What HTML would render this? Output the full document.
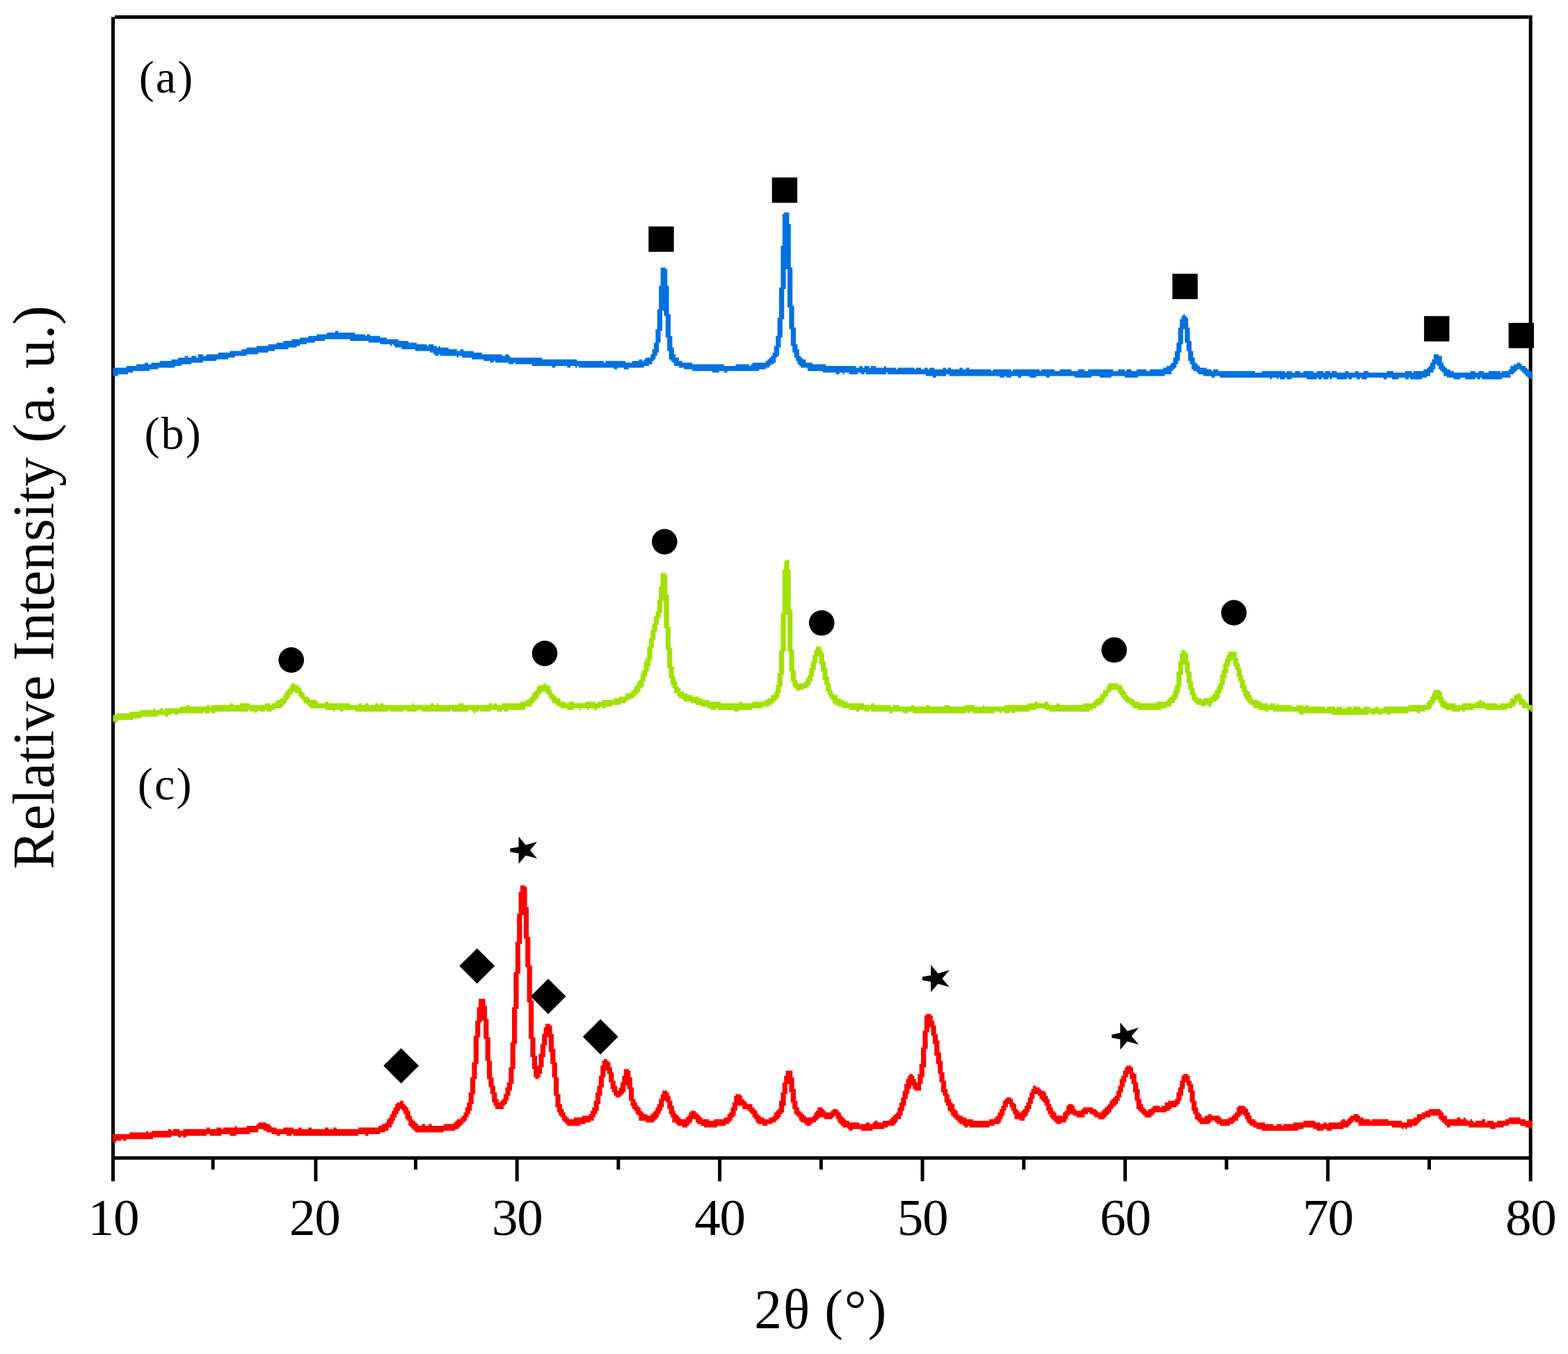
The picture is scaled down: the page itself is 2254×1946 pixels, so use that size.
<!DOCTYPE html>
<html lang="en">
<head>
<meta charset="utf-8">
<title>XRD patterns</title>
<style>
html,body{margin:0;padding:0;background:#fff;}
body{width:2254px;height:1946px;}
svg{display:block;}
text{font-family:"Liberation Serif","DejaVu Serif",serif;fill:#000;}
</style>
</head>
<body>
<svg width="2254" height="1946" viewBox="0 0 2254 1946" role="img" aria-label="XRD patterns (a), (b), (c): relative intensity versus 2 theta">
<rect width="2254" height="1946" fill="#fff"/>
<g fill="none" stroke="#000" stroke-width="5">
<line x1="162.5" y1="24.4" x2="162.5" y2="1697.7"/>
<line x1="2200.2" y1="21.9" x2="2200.2" y2="1697.7"/>
<line x1="165" y1="24.4" x2="2197.7" y2="24.4"/>
<line x1="162.5" y1="1664.2" x2="2200.2" y2="1664.2"/>
<line x1="306.1" y1="1664.2" x2="306.1" y2="1680.9"/>
<line x1="453.9" y1="1664.2" x2="453.9" y2="1697.7"/>
<line x1="597.5" y1="1664.2" x2="597.5" y2="1680.9"/>
<line x1="743.2" y1="1664.2" x2="743.2" y2="1697.7"/>
<line x1="888.9" y1="1664.2" x2="888.9" y2="1680.9"/>
<line x1="1034.6" y1="1664.2" x2="1034.6" y2="1697.7"/>
<line x1="1180.3" y1="1664.2" x2="1180.3" y2="1680.9"/>
<line x1="1326.0" y1="1664.2" x2="1326.0" y2="1697.7"/>
<line x1="1471.7" y1="1664.2" x2="1471.7" y2="1680.9"/>
<line x1="1617.4" y1="1664.2" x2="1617.4" y2="1697.7"/>
<line x1="1763.1" y1="1664.2" x2="1763.1" y2="1680.9"/>
<line x1="1908.8" y1="1664.2" x2="1908.8" y2="1697.7"/>
<line x1="2054.5" y1="1664.2" x2="2054.5" y2="1680.9"/>
</g>
<g stroke="none">
<path fill="#0071de" d="M162.4 528.4H181.6V526.0H196.0V523.6H208.0V521.2H212.8V523.6H217.6V521.2H229.6V518.8H246.4V516.4H256.0V514.0H265.6V511.6H270.4V514.0H275.2V511.6H282.4V514.0H284.8V509.2H292.0V511.6H296.8V509.2H313.6V506.8H330.4V504.4H347.2V502.0H354.4V499.6H368.8V497.2H385.6V494.8H397.6V492.4H407.2V490.0H419.2V487.6H431.2V485.2H443.2V482.8H455.2V480.4H469.6V478.0H481.6V475.6H486.4V478.0H510.4V480.4H524.8V482.8H527.2V480.4H532.0V482.8H546.4V485.2H556.0V487.6H572.8V490.0H587.2V492.4H599.2V494.8H613.6V497.2H616.0V494.8H623.2V497.2H628.0V499.6H630.4V497.2H632.8V499.6H644.8V502.0H656.8V504.4H661.6V502.0H666.4V504.4H680.8V506.8H692.8V509.2H721.6V511.6H726.4V509.2H731.2V511.6H733.6V514.0H779.2V516.4H829.6V518.8H868.0V521.2H870.4V518.8H899.2V521.2H908.8V518.8H918.4V516.4H923.2V518.8H925.6V516.4H928.0V514.0H935.2V509.2H937.6V502.0H940.0V492.4H942.4V473.2H944.8V444.4H947.2V410.8H949.6V384.4H956.8V386.8H959.2V410.8H961.6V451.6H964.0V482.8H966.4V499.6H968.8V509.2H971.2V514.0H976.0V518.8H980.8V521.2H995.2V523.6H1040.8V526.0H1057.6V523.6H1076.8V526.0H1079.2V523.6H1081.6V521.2H1100.8V518.8H1103.2V516.4H1105.6V514.0H1108.0V511.6H1110.4V506.8H1112.8V497.2H1115.2V482.8H1117.6V456.4H1120.0V413.2H1122.4V353.2H1124.8V307.6H1127.2V305.2H1134.4V322.0H1136.8V384.4H1139.2V439.6H1141.6V470.8H1144.0V494.8H1146.4V502.0H1148.8V511.6H1151.2V514.0H1153.6V516.4H1158.4V521.2H1168.0V523.6H1187.2V526.0H1230.4V528.4H1235.2V526.0H1240.0V528.4H1242.4V526.0H1249.6V528.4H1252.0V526.0H1259.2V528.4H1271.2V526.0H1273.6V528.4H1288.0V530.8H1290.4V528.4H1314.4V530.8H1316.8V528.4H1324.0V530.8H1328.8V528.4H1333.6V530.8H1336.0V528.4H1343.2V530.8H1355.2V528.4H1360.0V530.8H1362.4V528.4H1367.2V530.8H1379.2V528.4H1384.0V530.8H1388.8V528.4H1393.6V530.8H1424.8V533.2H1427.2V530.8H1453.6V533.2H1456.0V530.8H1494.4V533.2H1496.8V530.8H1516.0V533.2H1523.2V530.8H1540.0V533.2H1549.6V530.8H1559.2V533.2H1564.0V530.8H1600.0V533.2H1607.2V530.8H1616.8V533.2H1619.2V530.8H1626.4V533.2H1633.6V530.8H1648.0V533.2H1652.8V530.8H1672.0V528.4H1676.8V526.0H1681.6V523.6H1684.0V521.2H1686.4V514.0H1688.8V504.4H1691.2V492.4H1693.6V470.8H1696.0V458.8H1698.4V454.0H1700.8V451.6H1703.2V454.0H1705.6V456.4H1708.0V470.8H1710.4V490.0H1712.8V504.4H1715.2V514.0H1717.6V521.2H1720.0V523.6H1722.4V526.0H1724.8V528.4H1734.4V530.8H1741.6V533.2H1744.0V530.8H1751.2V533.2H1804.0V535.6H1813.6V533.2H1847.2V535.6H1849.6V533.2H1856.8V535.6H1861.6V533.2H1868.8V535.6H1873.6V533.2H1888.0V535.6H1892.8V533.2H1902.4V535.6H1904.8V533.2H1912.0V535.6H1914.4V533.2H1921.6V535.6H1933.6V533.2H1938.4V535.6H1948.0V533.2H1952.8V535.6H1960.0V533.2H1967.2V535.6H1993.6V533.2H2003.2V535.6H2020.0V533.2H2029.6V535.6H2032.0V533.2H2046.4V530.8H2051.2V528.4H2053.6V526.0H2056.0V521.2H2058.4V516.4H2060.8V509.2H2068.0V511.6H2072.8V521.2H2075.2V526.0H2077.6V528.4H2080.0V530.8H2084.8V533.2H2089.6V535.6H2113.6V533.2H2120.8V535.6H2125.6V533.2H2132.8V535.6H2140.0V533.2H2156.8V535.6H2159.2V533.2H2168.8V530.8H2171.2V526.0H2176.0V523.6H2180.8V521.2H2185.6V523.6H2188.0V526.0H2192.8V528.4H2195.2V530.8H2197.6V533.2H2202.4H2202.4V545.2H2200.0V542.8H2195.2V540.4H2192.8V538.0H2190.4V535.6H2188.0V533.2H2185.6V530.8H2180.8V533.2H2178.4V535.6H2176.0V538.0H2171.2V542.8H2159.2V545.2H2130.4V542.8H2128.0V545.2H2123.2V542.8H2120.8V545.2H2106.4V542.8H2099.2V545.2H2089.6V542.8H2080.0V540.4H2075.2V535.6H2072.8V533.2H2070.4V530.8H2068.0V526.0H2065.6V523.6H2063.2V530.8H2060.8V535.6H2056.0V540.4H2051.2V542.8H2044.0V545.2H2027.2V542.8H2024.8V545.2H2020.0V542.8H2010.4V545.2H2000.8V542.8H1993.6V545.2H1988.8V542.8H1967.2V542.8H1964.8V545.2H1957.6V542.8H1955.2V545.2H1950.4V542.8H1948.0V542.8H1943.2V545.2H1938.4V542.8H1936.0V545.2H1921.6V542.8H1914.4V545.2H1912.0V542.8H1909.6V545.2H1902.4V542.8H1900.0V545.2H1895.2V542.8H1892.8V545.2H1878.4V542.8H1873.6V542.8H1868.8V542.8H1861.6V542.8H1856.8V545.2H1849.6V542.8H1847.2V545.2H1840.0V542.8H1837.6V545.2H1835.2V542.8H1828.0V545.2H1825.6V542.8H1813.6V542.8H1804.0V542.8H1753.6V540.4H1751.2V540.4H1746.4V542.8H1741.6V540.4H1729.6V538.0H1722.4V535.6H1720.0V533.2H1715.2V530.8H1712.8V523.6H1710.4V518.8H1708.0V504.4H1705.6V492.4H1703.2V473.2H1700.8V494.8H1698.4V506.8H1696.0V518.8H1693.6V523.6H1691.2V528.4H1688.8V530.8H1686.4V533.2H1684.0V538.0H1674.4V540.4H1652.8V540.4H1648.0V540.4H1636.0V542.8H1616.8V540.4H1607.2V540.4H1600.0V540.4H1597.6V542.8H1580.8V540.4H1568.8V542.8H1544.8V540.4H1540.0V540.4H1523.2V540.4H1516.0V540.4H1508.8V542.8H1504.0V540.4H1496.8V540.4H1494.4V540.4H1489.6V542.8H1480.0V540.4H1468.0V542.8H1463.2V540.4H1456.0V540.4H1453.6V542.8H1446.4V540.4H1444.0V542.8H1436.8V540.4H1427.2V540.4H1424.8V540.4H1364.8V538.0H1360.0V540.4H1345.6V542.8H1340.8V540.4H1331.2V538.0H1276.0V535.6H1273.6V538.0H1244.8V535.6H1242.4V538.0H1237.6V535.6H1232.8V538.0H1220.8V535.6H1213.6V538.0H1211.2V535.6H1206.4V538.0H1201.6V535.6H1182.4V533.2H1160.8V528.4H1158.4V528.4H1151.2V526.0H1148.8V523.6H1146.4V518.8H1144.0V514.0H1141.6V506.8H1139.2V497.2H1136.8V473.2H1134.4V442.0H1132.0V386.8H1129.6V415.6H1127.2V458.8H1124.8V485.2H1122.4V499.6H1120.0V511.6H1117.6V514.0H1115.2V521.2H1112.8V523.6H1108.0V526.0H1105.6V528.4H1100.8V530.8H1091.2V533.2H1045.6V535.6H1040.8V533.2H1033.6V535.6H1024.0V533.2H995.2V530.8H983.2V528.4H980.8V528.4H976.0V526.0H968.8V521.2H966.4V518.8H964.0V516.4H961.6V504.4H959.2V485.2H956.8V454.0H954.4V446.8H952.0V475.6H949.6V492.4H947.2V506.8H944.8V511.6H942.4V516.4H940.0V518.8H937.6V523.6H932.8V526.0H925.6V528.4H908.8V528.4H904.0V530.8H896.8V528.4H887.2V530.8H882.4V528.4H870.4V528.4H868.0V528.4H832.0V526.0H829.6V528.4H827.2V526.0H820.0V528.4H815.2V526.0H798.4V528.4H793.6V526.0H764.8V523.6H740.8V521.2H738.4V523.6H731.2V521.2H712.0V518.8H709.6V521.2H704.8V518.8H695.2V516.4H678.4V514.0H664.0V511.6H659.2V514.0H656.8V511.6H632.8V509.2H630.4V511.6H625.6V509.2H623.2V506.8H618.4V504.4H596.8V502.0H577.6V499.6H568.0V497.2H565.6V494.8H563.2V497.2H560.8V494.8H546.4V492.4H529.6V490.0H503.2V487.6H467.2V490.0H452.8V492.4H440.8V494.8H431.2V497.2H426.4V499.6H414.4V502.0H395.2V504.4H385.6V506.8H371.2V509.2H354.4V511.6H337.6V514.0H328.0V516.4H311.2V518.8H292.0V521.2H275.2V523.6H260.8V526.0H251.2V528.4H229.6V528.4H227.2V530.8H215.2V533.2H191.2V535.6H184.0V538.0H169.6V540.4H162.4Z"/>
<path fill="#a2e000" d="M162.4 1027.6H167.2V1025.2H186.4V1022.8H200.8V1020.4H220.0V1018.0H222.4V1020.4H229.6V1018.0H234.4V1020.4H236.8V1018.0H258.4V1015.6H268.0V1013.2H272.8V1015.6H296.8V1013.2H301.6V1015.6H304.0V1013.2H330.4V1010.8H335.2V1013.2H344.8V1010.8H359.2V1013.2H380.8V1010.8H388.0V1013.2H390.4V1010.8H395.2V1008.4H397.6V1006.0H402.4V1003.6H407.2V998.8H409.6V994.0H412.0V991.6H414.4V989.2H416.8V984.4H419.2V982.0H424.0V984.4H428.8V986.8H431.2V989.2H433.6V994.0H436.0V996.4H438.4V1001.2H443.2V1003.6H445.6V1006.0H455.2V1008.4H457.6V1010.8H467.2V1008.4H472.0V1010.8H503.2V1013.2H515.2V1010.8H520.0V1013.2H524.8V1010.8H529.6V1013.2H539.2V1010.8H544.0V1013.2H546.4V1010.8H551.2V1013.2H592.0V1010.8H594.4V1013.2H618.4V1010.8H623.2V1013.2H628.0V1010.8H630.4V1013.2H659.2V1010.8H666.4V1013.2H702.4V1010.8H707.2V1013.2H709.6V1010.8H714.4V1013.2H721.6V1010.8H748.0V1008.4H755.2V1006.0H760.0V1003.6H762.4V1001.2H764.8V996.4H767.2V994.0H769.6V991.6H772.0V986.8H774.4V984.4H781.6V982.0H784.0V984.4H788.8V986.8H791.2V991.6H793.6V996.4H796.0V998.8H798.4V1001.2H800.8V1003.6H805.6V1008.4H812.8V1010.8H817.6V1008.4H824.8V1010.8H841.6V1008.4H856.0V1010.8H858.4V1008.4H865.6V1006.0H882.4V1003.6H889.6V1001.2H899.2V996.4H906.4V994.0H908.8V991.6H911.2V986.8H913.6V984.4H916.0V979.6H918.4V977.2H920.8V967.6H923.2V962.8H925.6V950.8H928.0V946.0H930.4V929.2H932.8V917.2H935.2V905.2H937.6V895.6H940.0V886.0H942.4V878.8H944.8V862.0H947.2V842.8H949.6V823.6H956.8V826.0H959.2V854.8H961.6V900.4H964.0V931.6H966.4V958.0H968.8V972.4H971.2V979.6H973.6V986.8H976.0V989.2H978.4V994.0H983.2V996.4H988.0V998.8H995.2V1001.2H1004.8V1003.6H1009.6V1006.0H1019.2V1008.4H1036.0V1010.8H1062.4V1008.4H1067.2V1010.8H1081.6V1008.4H1098.4V1006.0H1103.2V1003.6H1108.0V998.8H1112.8V994.0H1115.2V984.4H1117.6V967.6H1120.0V934.0H1122.4V881.2H1124.8V818.8H1127.2V806.8H1129.6V804.4H1134.4V818.8H1136.8V876.4H1139.2V934.0H1141.6V962.8H1144.0V977.2H1146.4V982.0H1156.0V979.6H1158.4V974.8H1160.8V970.0H1163.2V960.4H1165.6V950.8H1168.0V941.2H1170.4V934.0H1172.8V929.2H1180.0V934.0H1182.4V938.8H1184.8V950.8H1187.2V960.4H1189.6V972.4H1192.0V982.0H1194.4V991.6H1196.8V996.4H1199.2V998.8H1204.0V1003.6H1208.8V1006.0H1213.6V1008.4H1218.4V1010.8H1242.4V1013.2H1252.0V1010.8H1256.8V1013.2H1280.8V1015.6H1283.2V1013.2H1292.8V1015.6H1309.6V1013.2H1314.4V1015.6H1331.2V1013.2H1336.0V1015.6H1357.6V1013.2H1364.8V1015.6H1386.4V1013.2H1400.8V1015.6H1412.8V1013.2H1415.2V1015.6H1444.0V1013.2H1477.6V1010.8H1487.2V1008.4H1492.0V1010.8H1501.6V1008.4H1506.4V1010.8H1508.8V1013.2H1518.4V1010.8H1523.2V1013.2H1556.8V1010.8H1571.2V1008.4H1573.6V1006.0H1576.0V1003.6H1580.8V998.8H1583.2V996.4H1585.6V991.6H1590.4V986.8H1592.8V982.0H1607.2V984.4H1612.0V986.8H1614.4V991.6H1616.8V994.0H1619.2V998.8H1621.6V1001.2H1624.0V1003.6H1628.8V1006.0H1631.2V1008.4H1638.4V1010.8H1662.4V1008.4H1676.8V1006.0H1679.2V1003.6H1681.6V1001.2H1684.0V998.8H1686.4V991.6H1688.8V984.4H1691.2V965.2H1693.6V950.8H1696.0V938.8H1698.4V934.0H1703.2V936.4H1705.6V938.8H1708.0V950.8H1710.4V965.2H1712.8V979.6H1715.2V989.2H1717.6V996.4H1720.0V1001.2H1722.4V1003.6H1727.2V1006.0H1729.6V1003.6H1739.2V1001.2H1741.6V998.8H1744.0V996.4H1746.4V991.6H1748.8V986.8H1751.2V982.0H1753.6V970.0H1756.0V962.8H1758.4V953.2H1760.8V946.0H1763.2V941.2H1765.6V936.4H1777.6V946.0H1780.0V953.2H1782.4V960.4H1784.8V970.0H1787.2V977.2H1789.6V984.4H1792.0V991.6H1794.4V994.0H1796.8V998.8H1799.2V1003.6H1801.6V1006.0H1808.8V1008.4H1813.6V1010.8H1823.2V1013.2H1825.6V1010.8H1832.8V1013.2H1835.2V1010.8H1837.6V1013.2H1856.8V1015.6H1864.0V1013.2H1873.6V1015.6H1876.0V1013.2H1880.8V1015.6H1904.8V1018.0H1907.2V1015.6H1919.2V1018.0H1921.6V1015.6H1928.8V1018.0H1936.0V1015.6H1943.2V1018.0H1945.6V1015.6H1955.2V1018.0H1960.0V1015.6H1969.6V1018.0H1976.8V1015.6H1981.6V1018.0H1988.8V1015.6H2024.8V1013.2H2051.2V1008.4H2053.6V1006.0H2056.0V1001.2H2058.4V996.4H2060.8V991.6H2070.4V994.0H2072.8V1001.2H2075.2V1006.0H2077.6V1008.4H2080.0V1010.8H2092.0V1013.2H2101.6V1010.8H2120.8V1008.4H2125.6V1006.0H2130.4V1008.4H2135.2V1010.8H2152.0V1013.2H2156.8V1010.8H2168.8V1008.4H2171.2V1003.6H2176.0V998.8H2180.8V996.4H2185.6V998.8H2188.0V1003.6H2190.4V1006.0H2192.8V1008.4H2195.2V1010.8H2197.6V1013.2H2202.4H2202.4V1022.8H2200.0V1020.4H2195.2V1018.0H2188.0V1013.2H2183.2V1008.4H2180.8V1010.8H2178.4V1015.6H2173.6V1018.0H2166.4V1020.4H2135.2V1018.0H2118.4V1020.4H2106.4V1022.8H2101.6V1020.4H2099.2V1022.8H2087.2V1020.4H2077.6V1018.0H2072.8V1015.6H2070.4V1010.8H2068.0V1006.0H2063.2V1010.8H2060.8V1013.2H2058.4V1018.0H2056.0V1020.4H2048.8V1022.8H2041.6V1025.2H2036.8V1022.8H2024.8V1025.2H1998.4V1027.6H1993.6V1025.2H1988.8V1025.2H1986.4V1027.6H1981.6V1025.2H1976.8V1027.6H1972.0V1025.2H1969.6V1025.2H1967.2V1027.6H1914.4V1025.2H1907.2V1025.2H1904.8V1025.2H1873.6V1027.6H1868.8V1025.2H1866.4V1022.8H1830.4V1020.4H1823.2V1022.8H1818.4V1020.4H1808.8V1018.0H1801.6V1013.2H1796.8V1010.8H1794.4V1008.4H1792.0V1006.0H1789.6V1001.2H1787.2V994.0H1784.8V989.2H1782.4V979.6H1780.0V972.4H1777.6V962.8H1775.2V958.0H1772.8V948.4H1770.4V950.8H1768.0V958.0H1765.6V967.6H1763.2V974.8H1760.8V984.4H1758.4V991.6H1756.0V996.4H1753.6V1003.6H1751.2V1006.0H1748.8V1008.4H1744.0V1010.8H1741.6V1015.6H1736.8V1013.2H1732.0V1015.6H1727.2V1013.2H1720.0V1010.8H1717.6V1008.4H1715.2V1006.0H1712.8V998.8H1710.4V991.6H1708.0V982.0H1705.6V967.6H1703.2V955.6H1700.8V970.0H1698.4V986.8H1696.0V996.4H1693.6V1003.6H1691.2V1006.0H1688.8V1010.8H1684.0V1015.6H1676.8V1018.0H1669.6V1020.4H1636.0V1018.0H1628.8V1015.6H1626.4V1013.2H1624.0V1010.8H1619.2V1008.4H1616.8V1006.0H1614.4V1003.6H1612.0V998.8H1609.6V996.4H1607.2V991.6H1597.6V994.0H1595.2V996.4H1592.8V1001.2H1590.4V1003.6H1588.0V1008.4H1585.6V1010.8H1583.2V1013.2H1578.4V1015.6H1576.0V1018.0H1571.2V1020.4H1566.4V1022.8H1508.8V1020.4H1501.6V1018.0H1489.6V1020.4H1480.0V1022.8H1458.4V1025.2H1453.6V1022.8H1451.2V1025.2H1444.0V1022.8H1439.2V1025.2H1436.8V1022.8H1429.6V1025.2H1398.4V1022.8H1393.6V1025.2H1391.2V1022.8H1388.8V1025.2H1312.0V1022.8H1304.8V1025.2H1297.6V1022.8H1283.2V1025.2H1278.4V1022.8H1252.0V1020.4H1249.6V1022.8H1242.4V1020.4H1235.2V1022.8H1230.4V1020.4H1220.8V1018.0H1211.2V1015.6H1204.0V1013.2H1199.2V1010.8H1196.8V1006.0H1194.4V1003.6H1192.0V998.8H1189.6V994.0H1187.2V984.4H1184.8V977.2H1182.4V965.2H1180.0V955.6H1177.6V943.6H1175.2V953.2H1172.8V962.8H1170.4V972.4H1168.0V979.6H1165.6V984.4H1163.2V986.8H1160.8V989.2H1156.0V991.6H1148.8V994.0H1146.4V991.6H1144.0V989.2H1141.6V986.8H1139.2V979.6H1136.8V965.2H1134.4V936.4H1132.0V883.6H1129.6V936.4H1127.2V970.0H1124.8V986.8H1122.4V996.4H1120.0V1003.6H1117.6V1006.0H1115.2V1008.4H1112.8V1010.8H1110.4V1013.2H1105.6V1015.6H1098.4V1015.6H1096.0V1018.0H1081.6V1020.4H1062.4V1022.8H1055.2V1020.4H1031.2V1018.0H1028.8V1020.4H1021.6V1018.0H1016.8V1015.6H1007.2V1013.2H1000.0V1010.8H992.8V1008.4H983.2V1006.0H980.8V1003.6H976.0V1001.2H973.6V996.4H968.8V989.2H966.4V984.4H964.0V974.8H961.6V960.4H959.2V934.0H956.8V902.8H954.4V864.4H952.0V881.2H949.6V888.4H947.2V898.0H944.8V907.6H942.4V919.6H940.0V931.6H937.6V948.4H935.2V958.0H932.8V965.2H930.4V972.4H928.0V979.6H925.6V986.8H923.2V989.2H920.8V994.0H918.4V996.4H916.0V998.8H913.6V1001.2H911.2V1003.6H906.4V1006.0H901.6V1008.4H899.2V1010.8H892.0V1013.2H882.4V1013.2H880.0V1015.6H870.4V1018.0H865.6V1015.6H863.2V1018.0H858.4V1020.4H853.6V1018.0H846.4V1020.4H844.0V1018.0H834.4V1020.4H832.0V1018.0H824.8V1020.4H815.2V1018.0H805.6V1015.6H800.8V1013.2H798.4V1010.8H793.6V1006.0H791.2V1003.6H788.8V998.8H786.4V996.4H784.0V994.0H779.2V996.4H776.8V998.8H774.4V1003.6H772.0V1006.0H769.6V1008.4H767.2V1010.8H764.8V1015.6H755.2V1020.4H731.2V1022.8H724.0V1020.4H721.6V1022.8H714.4V1020.4H704.8V1022.8H690.4V1020.4H688.0V1022.8H683.2V1025.2H680.8V1022.8H678.4V1020.4H673.6V1022.8H649.6V1020.4H647.2V1022.8H606.4V1020.4H599.2V1022.8H584.8V1020.4H580.0V1022.8H560.8V1020.4H558.4V1022.8H510.4V1020.4H493.6V1022.8H488.8V1020.4H481.6V1022.8H479.2V1020.4H467.2V1018.0H445.6V1015.6H443.2V1013.2H440.8V1010.8H436.0V1006.0H433.6V1003.6H431.2V1001.2H428.8V996.4H424.0V994.0H421.6V996.4H419.2V998.8H416.8V1003.6H414.4V1006.0H412.0V1010.8H409.6V1013.2H407.2V1015.6H404.8V1018.0H395.2V1020.4H390.4V1022.8H383.2V1020.4H380.8V1022.8H373.6V1020.4H371.2V1022.8H368.8V1025.2H366.4V1022.8H359.2V1020.4H356.8V1022.8H308.8V1025.2H304.0V1022.8H301.6V1025.2H294.4V1022.8H292.0V1025.2H258.4V1025.2H256.0V1027.6H251.2V1025.2H246.4V1027.6H241.6V1030.0H236.8V1027.6H227.2V1030.0H203.2V1032.4H191.2V1034.8H169.6V1037.2H167.2V1039.6H164.8V1037.2H162.4Z"/>
<path fill="#ff0000" d="M162.4 1630.0H186.4V1627.6H210.4V1625.2H212.8V1627.6H217.6V1625.2H241.6V1622.8H246.4V1625.2H248.8V1622.8H258.4V1625.2H263.2V1622.8H296.8V1620.4H301.6V1622.8H311.2V1620.4H318.4V1622.8H320.8V1620.4H337.6V1618.0H340.0V1620.4H354.4V1618.0H368.8V1615.6H371.2V1613.2H383.2V1615.6H388.0V1618.0H390.4V1620.4H397.6V1622.8H407.2V1620.4H421.6V1622.8H428.8V1620.4H433.6V1622.8H443.2V1620.4H448.0V1622.8H467.2V1620.4H472.0V1622.8H479.2V1620.4H484.0V1622.8H515.2V1620.4H544.0V1618.0H548.8V1615.6H553.6V1613.2H556.0V1608.4H558.4V1606.0H560.8V1601.2H563.2V1596.4H565.6V1591.6H568.0V1586.8H570.4V1584.4H575.2V1582.0H580.0V1586.8H582.4V1589.2H584.8V1591.6H587.2V1596.4H589.6V1603.6H592.0V1608.4H594.4V1610.8H596.8V1613.2H599.2V1615.6H601.6V1618.0H606.4V1615.6H611.2V1618.0H616.0V1615.6H620.8V1618.0H637.6V1615.6H652.0V1613.2H654.4V1610.8H656.8V1608.4H661.6V1606.0H664.0V1603.6H666.4V1598.8H668.8V1591.6H671.2V1584.4H673.6V1570.0H676.0V1548.4H678.4V1526.8H680.8V1488.4H683.2V1466.8H685.6V1447.6H688.0V1435.6H697.6V1445.2H700.0V1464.4H702.4V1490.8H704.8V1524.4H707.2V1548.4H709.6V1560.4H712.0V1570.0H714.4V1579.6H716.8V1584.4H719.2V1582.0H721.6V1579.6H724.0V1572.4H726.4V1562.8H728.8V1555.6H731.2V1534.0H733.6V1498.0H736.0V1447.6H738.4V1397.2H740.8V1354.0H743.2V1313.2H745.6V1282.0H748.0V1272.4H755.2V1274.8H757.6V1303.6H760.0V1346.8H762.4V1387.6H764.8V1438.0H767.2V1490.8H769.6V1517.2H772.0V1531.6H774.4V1514.8H776.8V1500.4H779.2V1486.0H781.6V1476.4H784.0V1471.6H791.2V1474.0H793.6V1486.0H796.0V1507.6H798.4V1526.8H800.8V1548.4H803.2V1572.4H805.6V1586.8H808.0V1594.0H810.4V1598.8H812.8V1603.6H815.2V1606.0H817.6V1608.4H824.8V1606.0H836.8V1603.6H846.4V1601.2H848.8V1596.4H851.2V1591.6H853.6V1582.0H856.0V1570.0H858.4V1560.4H860.8V1546.0H863.2V1531.6H865.6V1524.4H868.0V1522.0H872.8V1524.4H875.2V1526.8H877.6V1534.0H880.0V1541.2H882.4V1553.2H884.8V1560.4H887.2V1567.6H889.6V1562.8H892.0V1555.6H894.4V1546.0H896.8V1536.4H904.0V1538.8H906.4V1548.4H908.8V1562.8H911.2V1579.6H913.6V1584.4H916.0V1589.2H918.4V1591.6H920.8V1596.4H923.2V1598.8H925.6V1601.2H930.4V1603.6H935.2V1601.2H937.6V1598.8H940.0V1596.4H942.4V1591.6H944.8V1586.8H947.2V1579.6H949.6V1572.4H952.0V1567.6H959.2V1570.0H961.6V1574.8H964.0V1582.0H966.4V1589.2H968.8V1596.4H971.2V1601.2H973.6V1603.6H976.0V1606.0H978.4V1608.4H985.6V1606.0H988.0V1603.6H990.4V1598.8H992.8V1596.4H1000.0V1598.8H1002.4V1601.2H1004.8V1603.6H1007.2V1606.0H1009.6V1608.4H1019.2V1610.8H1026.4V1608.4H1040.8V1606.0H1045.6V1601.2H1048.0V1598.8H1050.4V1591.6H1052.8V1584.4H1055.2V1574.8H1057.6V1572.4H1064.8V1574.8H1067.2V1579.6H1069.6V1582.0H1072.0V1584.4H1074.4V1586.8H1081.6V1591.6H1084.0V1594.0H1086.4V1596.4H1088.8V1601.2H1091.2V1603.6H1093.6V1606.0H1098.4V1608.4H1105.6V1606.0H1110.4V1603.6H1112.8V1598.8H1115.2V1596.4H1117.6V1594.0H1120.0V1582.0H1122.4V1570.0H1124.8V1555.6H1127.2V1546.0H1129.6V1538.8H1139.2V1548.4H1141.6V1565.2H1144.0V1582.0H1146.4V1591.6H1148.8V1596.4H1151.2V1598.8H1153.6V1601.2H1156.0V1603.6H1158.4V1606.0H1168.0V1603.6H1170.4V1598.8H1172.8V1596.4H1175.2V1591.6H1182.4V1594.0H1184.8V1596.4H1187.2V1598.8H1194.4V1596.4H1196.8V1594.0H1204.0V1596.4H1206.4V1598.8H1208.8V1603.6H1211.2V1606.0H1213.6V1608.4H1216.0V1610.8H1220.8V1613.2H1235.2V1615.6H1244.8V1613.2H1249.6V1615.6H1254.4V1613.2H1256.8V1610.8H1261.6V1613.2H1268.8V1610.8H1278.4V1608.4H1280.8V1606.0H1283.2V1603.6H1285.6V1601.2H1288.0V1598.8H1290.4V1591.6H1292.8V1584.4H1295.2V1577.2H1297.6V1567.6H1300.0V1558.0H1302.4V1550.8H1304.8V1546.0H1307.2V1543.6H1312.0V1546.0H1314.4V1550.8H1316.8V1555.6H1319.2V1543.6H1321.6V1529.2H1324.0V1505.2H1326.4V1481.2H1328.8V1459.6H1331.2V1457.2H1338.4V1459.6H1340.8V1466.8H1343.2V1474.0H1345.6V1486.0H1348.0V1495.6H1350.4V1512.4H1352.8V1524.4H1355.2V1541.2H1357.6V1553.2H1360.0V1565.2H1362.4V1572.4H1364.8V1579.6H1367.2V1584.4H1369.6V1586.8H1372.0V1594.0H1374.4V1596.4H1376.8V1601.2H1379.2V1603.6H1384.0V1606.0H1388.8V1608.4H1398.4V1610.8H1422.4V1608.4H1429.6V1606.0H1432.0V1603.6H1434.4V1598.8H1436.8V1594.0H1439.2V1589.2H1441.6V1582.0H1444.0V1579.6H1446.4V1577.2H1453.6V1579.6H1456.0V1584.4H1458.4V1586.8H1460.8V1594.0H1463.2V1596.4H1465.6V1598.8H1468.0V1596.4H1470.4V1594.0H1472.8V1589.2H1475.2V1584.4H1477.6V1577.2H1480.0V1570.0H1482.4V1565.2H1484.8V1560.4H1489.6V1562.8H1494.4V1565.2H1496.8V1567.6H1501.6V1570.0H1504.0V1574.8H1506.4V1579.6H1508.8V1586.8H1511.2V1591.6H1513.6V1596.4H1516.0V1598.8H1518.4V1603.6H1528.0V1598.8H1530.4V1596.4H1532.8V1589.2H1535.2V1586.8H1542.4V1589.2H1544.8V1594.0H1547.2V1596.4H1554.4V1594.0H1556.8V1591.6H1571.2V1594.0H1576.0V1596.4H1578.4V1598.8H1583.2V1596.4H1585.6V1594.0H1588.0V1591.6H1590.4V1589.2H1592.8V1586.8H1595.2V1582.0H1597.6V1579.6H1600.0V1577.2H1602.4V1574.8H1604.8V1567.6H1607.2V1560.4H1609.6V1550.8H1612.0V1546.0H1614.4V1538.8H1616.8V1534.0H1619.2V1531.6H1626.4V1534.0H1628.8V1541.2H1631.2V1543.6H1633.6V1555.6H1636.0V1565.2H1638.4V1579.6H1640.8V1586.8H1643.2V1591.6H1645.6V1594.0H1648.0V1596.4H1650.4V1594.0H1655.2V1591.6H1657.6V1589.2H1667.2V1591.6H1669.6V1589.2H1674.4V1584.4H1679.2V1582.0H1688.8V1579.6H1691.2V1570.0H1693.6V1562.8H1696.0V1553.2H1698.4V1546.0H1700.8V1543.6H1708.0V1546.0H1710.4V1553.2H1712.8V1558.0H1715.2V1567.6H1717.6V1582.0H1720.0V1591.6H1722.4V1598.8H1724.8V1601.2H1727.2V1606.0H1732.0V1603.6H1736.8V1601.2H1741.6V1603.6H1753.6V1606.0H1756.0V1608.4H1765.6V1606.0H1770.4V1603.6H1772.8V1601.2H1775.2V1598.8H1777.6V1591.6H1780.0V1589.2H1789.6V1591.6H1792.0V1594.0H1794.4V1598.8H1796.8V1603.6H1799.2V1608.4H1804.0V1610.8H1806.4V1613.2H1818.4V1615.6H1830.4V1618.0H1835.2V1615.6H1842.4V1618.0H1844.8V1615.6H1859.2V1613.2H1873.6V1610.8H1890.4V1613.2H1897.6V1615.6H1902.4V1613.2H1907.2V1615.6H1909.6V1613.2H1926.4V1610.8H1928.8V1608.4H1933.6V1610.8H1936.0V1608.4H1938.4V1606.0H1940.8V1603.6H1945.6V1601.2H1952.8V1603.6H1955.2V1606.0H1960.0V1608.4H1969.6V1610.8H1972.0V1608.4H1996.0V1610.8H2015.2V1613.2H2022.4V1608.4H2032.0V1606.0H2036.8V1601.2H2044.0V1598.8H2048.8V1596.4H2053.6V1594.0H2070.4V1596.4H2072.8V1598.8H2075.2V1603.6H2080.0V1608.4H2094.4V1606.0H2099.2V1608.4H2104.0V1606.0H2106.4V1608.4H2108.8V1610.8H2113.6V1608.4H2116.0V1610.8H2118.4V1613.2H2120.8V1610.8H2130.4V1608.4H2135.2V1613.2H2137.6V1610.8H2147.2V1613.2H2152.0V1610.8H2164.0V1608.4H2168.8V1606.0H2185.6V1608.4H2192.8V1610.8H2202.4H2202.4V1622.8H2200.0V1620.4H2192.8V1618.0H2185.6V1615.6H2168.8V1618.0H2161.6V1620.4H2152.0V1620.4H2149.6V1622.8H2142.4V1620.4H2137.6V1620.4H2135.2V1620.4H2120.8V1620.4H2118.4V1620.4H2111.2V1618.0H2084.8V1620.4H2080.0V1618.0H2077.6V1615.6H2075.2V1613.2H2072.8V1610.8H2070.4V1608.4H2068.0V1603.6H2056.0V1606.0H2048.8V1608.4H2044.0V1610.8H2041.6V1613.2H2039.2V1615.6H2036.8V1618.0H2029.6V1620.4H2022.4V1622.8H2020.0V1620.4H2017.6V1622.8H2015.2V1620.4H2000.8V1618.0H1952.8V1613.2H1948.0V1610.8H1945.6V1613.2H1943.2V1615.6H1940.8V1618.0H1938.4V1620.4H1931.2V1622.8H1914.4V1625.2H1907.2V1622.8H1902.4V1625.2H1892.8V1622.8H1888.0V1620.4H1873.6V1622.8H1866.4V1625.2H1813.6V1622.8H1806.4V1620.4H1801.6V1618.0H1796.8V1615.6H1794.4V1613.2H1792.0V1608.4H1789.6V1603.6H1787.2V1601.2H1784.8V1603.6H1782.4V1606.0H1780.0V1610.8H1775.2V1613.2H1772.8V1615.6H1768.0V1618.0H1753.6V1615.6H1748.8V1613.2H1746.4V1610.8H1741.6V1613.2H1739.2V1615.6H1724.8V1613.2H1722.4V1610.8H1720.0V1608.4H1717.6V1601.2H1715.2V1596.4H1712.8V1584.4H1710.4V1570.0H1708.0V1560.4H1705.6V1555.6H1703.2V1565.2H1700.8V1574.8H1698.4V1582.0H1696.0V1586.8H1693.6V1589.2H1691.2V1591.6H1684.0V1594.0H1681.6V1596.4H1676.8V1598.8H1660.0V1601.2H1657.6V1603.6H1655.2V1606.0H1645.6V1603.6H1643.2V1601.2H1640.8V1598.8H1638.4V1596.4H1636.0V1594.0H1633.6V1582.0H1631.2V1570.0H1628.8V1558.0H1626.4V1550.8H1624.0V1543.6H1621.6V1548.4H1619.2V1555.6H1616.8V1562.8H1614.4V1570.0H1612.0V1577.2H1609.6V1582.0H1607.2V1586.8H1604.8V1589.2H1602.4V1591.6H1600.0V1594.0H1597.6V1598.8H1595.2V1601.2H1592.8V1603.6H1590.4V1606.0H1588.0V1608.4H1578.4V1606.0H1573.6V1603.6H1571.2V1601.2H1566.4V1598.8H1564.0V1601.2H1559.2V1606.0H1547.2V1603.6H1542.4V1601.2H1537.6V1603.6H1535.2V1608.4H1532.8V1613.2H1525.6V1615.6H1518.4V1613.2H1516.0V1610.8H1513.6V1608.4H1511.2V1606.0H1508.8V1601.2H1506.4V1596.4H1504.0V1589.2H1501.6V1584.4H1499.2V1582.0H1496.8V1579.6H1494.4V1574.8H1492.0V1572.4H1487.2V1579.6H1484.8V1586.8H1482.4V1594.0H1480.0V1598.8H1477.6V1603.6H1475.2V1606.0H1472.8V1610.8H1465.6V1608.4H1458.4V1601.2H1456.0V1596.4H1453.6V1591.6H1451.2V1586.8H1448.8V1591.6H1446.4V1596.4H1444.0V1603.6H1441.6V1608.4H1439.2V1613.2H1436.8V1615.6H1429.6V1618.0H1422.4V1620.4H1393.6V1618.0H1391.2V1620.4H1386.4V1618.0H1384.0V1615.6H1379.2V1613.2H1376.8V1610.8H1374.4V1608.4H1372.0V1606.0H1369.6V1603.6H1367.2V1598.8H1364.8V1596.4H1362.4V1589.2H1360.0V1584.4H1357.6V1574.8H1355.2V1570.0H1352.8V1555.6H1350.4V1543.6H1348.0V1529.2H1345.6V1517.2H1343.2V1500.4H1340.8V1488.4H1338.4V1476.4H1336.0V1483.6H1333.6V1507.6H1331.2V1534.0H1328.8V1548.4H1326.4V1558.0H1324.0V1567.6H1314.4V1565.2H1312.0V1560.4H1309.6V1565.2H1307.2V1572.4H1304.8V1579.6H1302.4V1589.2H1300.0V1596.4H1297.6V1603.6H1295.2V1608.4H1290.4V1613.2H1288.0V1615.6H1285.6V1618.0H1276.0V1620.4H1271.2V1622.8H1254.4V1625.2H1237.6V1622.8H1225.6V1625.2H1220.8V1622.8H1218.4V1620.4H1211.2V1618.0H1208.8V1615.6H1206.4V1613.2H1204.0V1608.4H1201.6V1603.6H1199.2V1606.0H1196.8V1608.4H1184.8V1606.0H1177.6V1608.4H1175.2V1610.8H1172.8V1613.2H1168.0V1615.6H1165.6V1618.0H1158.4V1615.6H1156.0V1613.2H1151.2V1610.8H1148.8V1606.0H1146.4V1603.6H1144.0V1601.2H1141.6V1594.0H1139.2V1584.4H1136.8V1570.0H1134.4V1558.0H1132.0V1572.4H1129.6V1589.2H1127.2V1598.8H1124.8V1601.2H1122.4V1606.0H1120.0V1608.4H1117.6V1610.8H1115.2V1613.2H1110.4V1615.6H1103.2V1618.0H1096.0V1615.6H1088.8V1613.2H1086.4V1608.4H1084.0V1606.0H1081.6V1601.2H1079.2V1598.8H1076.8V1596.4H1074.4V1594.0H1067.2V1589.2H1060.0V1596.4H1057.6V1603.6H1055.2V1606.0H1052.8V1610.8H1050.4V1613.2H1048.0V1615.6H1043.2V1618.0H1031.2V1620.4H1012.0V1618.0H1007.2V1615.6H1002.4V1613.2H1000.0V1608.4H995.2V1613.2H992.8V1615.6H990.4V1618.0H988.0V1620.4H980.8V1618.0H973.6V1615.6H971.2V1613.2H966.4V1606.0H964.0V1601.2H961.6V1594.0H959.2V1584.4H956.8V1582.0H954.4V1591.6H952.0V1596.4H949.6V1601.2H947.2V1606.0H944.8V1608.4H942.4V1610.8H940.0V1613.2H928.0V1610.8H918.4V1603.6H916.0V1601.2H913.6V1596.4H911.2V1594.0H908.8V1589.2H906.4V1582.0H904.0V1565.2H901.6V1560.4H899.2V1570.0H896.8V1572.4H894.4V1574.8H892.0V1577.2H884.8V1574.8H882.4V1570.0H880.0V1565.2H877.6V1555.6H875.2V1543.6H872.8V1538.8H870.4V1548.4H868.0V1562.8H865.6V1574.8H863.2V1586.8H860.8V1596.4H858.4V1601.2H856.0V1606.0H853.6V1610.8H848.8V1613.2H841.6V1615.6H834.4V1618.0H815.2V1615.6H812.8V1613.2H810.4V1610.8H808.0V1606.0H805.6V1603.6H803.2V1598.8H800.8V1591.6H798.4V1574.8H796.0V1548.4H793.6V1529.2H791.2V1512.4H788.8V1490.8H786.4V1502.8H784.0V1519.6H781.6V1534.0H779.2V1543.6H776.8V1548.4H774.4V1550.8H769.6V1548.4H767.2V1536.4H764.8V1519.6H762.4V1493.2H760.0V1440.4H757.6V1390.0H755.2V1349.2H752.8V1315.6H750.4V1356.4H748.0V1399.6H745.6V1450.0H743.2V1500.4H740.8V1536.4H738.4V1558.0H736.0V1567.6H733.6V1574.8H731.2V1582.0H728.8V1586.8H726.4V1589.2H724.0V1594.0H712.0V1589.2H709.6V1584.4H707.2V1572.4H704.8V1562.8H702.4V1550.8H700.0V1524.4H697.6V1493.2H695.2V1466.8H692.8V1469.2H690.4V1490.8H688.0V1529.2H685.6V1550.8H683.2V1572.4H680.8V1586.8H678.4V1596.4H676.0V1601.2H673.6V1606.0H671.2V1610.8H668.8V1613.2H666.4V1615.6H664.0V1618.0H661.6V1620.4H659.2V1622.8H654.4V1625.2H637.6V1627.6H596.8V1625.2H594.4V1622.8H592.0V1620.4H589.6V1618.0H587.2V1610.8H584.8V1608.4H582.4V1601.2H580.0V1596.4H577.6V1594.0H575.2V1596.4H572.8V1601.2H570.4V1606.0H568.0V1610.8H565.6V1615.6H563.2V1620.4H558.4V1625.2H553.6V1627.6H546.4V1630.0H529.6V1632.4H524.8V1630.0H515.2V1632.4H421.6V1630.0H419.2V1632.4H412.0V1630.0H402.4V1632.4H397.6V1630.0H390.4V1627.6H383.2V1625.2H378.4V1622.8H371.2V1627.6H359.2V1630.0H340.0V1632.4H330.4V1630.0H318.4V1632.4H301.6V1630.0H296.8V1632.4H268.0V1634.8H263.2V1632.4H260.8V1634.8H256.0V1632.4H248.8V1632.4H246.4V1634.8H220.0V1637.2H181.6V1639.6H176.8V1637.2H174.4V1639.6H167.2V1642.0H162.4Z"/>
</g>
<g fill="#000">
<rect x="932.3" y="325.5" width="36.4" height="36.4"/>
<rect x="1109.7" y="255.1" width="36.4" height="36.4"/>
<rect x="1685.3" y="393.5" width="36.4" height="36.4"/>
<rect x="2047.1" y="454.3" width="36.4" height="36.4"/>
<rect x="2168.6" y="464.0" width="36.4" height="36.4"/>
<circle cx="418.7" cy="948.6" r="18.3"/>
<circle cx="783.0" cy="939.1" r="18.3"/>
<circle cx="955.3" cy="778.6" r="18.3"/>
<circle cx="1181.2" cy="895.3" r="18.3"/>
<circle cx="1601.6" cy="934.2" r="18.3"/>
<circle cx="1773.7" cy="880.6" r="18.3"/>
<polygon points="551.2,1531.8 576.6,1506.4 602.0,1531.8 576.6,1557.2"/>
<polygon points="660.4,1388.3 685.8,1362.9 711.2,1388.3 685.8,1413.7"/>
<polygon points="762.7,1432.1 788.1,1406.7 813.5,1432.1 788.1,1457.5"/>
<polygon points="837.8,1490.1 863.2,1464.7 888.6,1490.1 863.2,1515.5"/>
<polygon points="733.3,1224.2 733.3,1219.6 745.6,1217.3 745.6,1202.3 755.8,1214.4 772.2,1209.8 762.0,1221.9 772.2,1234.0 755.8,1229.4 745.6,1241.5 745.6,1226.5"/>
<polygon points="1325.8,1408.7 1325.8,1404.1 1338.1,1401.8 1338.1,1386.8 1348.3,1398.9 1364.7,1394.3 1354.5,1406.4 1364.7,1418.5 1348.3,1413.9 1338.1,1426.0 1338.1,1411.0"/>
<polygon points="1598.0,1491.5 1598.0,1486.9 1610.3,1484.6 1610.3,1469.6 1620.5,1481.7 1636.9,1477.1 1626.7,1489.2 1636.9,1501.3 1620.5,1496.7 1610.3,1508.8 1610.3,1493.8"/>
</g>
<g font-size="75" text-anchor="middle" letter-spacing="-1.2">
<text x="162.9" y="1775">10</text>
<text x="452.2" y="1775">20</text>
<text x="743.2" y="1775">30</text>
<text x="1034.6" y="1775">40</text>
<text x="1326.0" y="1775">50</text>
<text x="1617.4" y="1775">60</text>
<text x="1908.8" y="1775">70</text>
<text x="2200.2" y="1775">80</text>
</g>
<g font-size="66" letter-spacing="2.2">
<text x="199.7" y="133">(a)</text>
<text x="207.4" y="645.3">(b)</text>
<text x="197.8" y="1148.5">(c)</text>
</g>
<text x="1084.2" y="1909" font-size="79.5" letter-spacing="2.1" style="word-spacing:-3px">2θ (°)</text>
<text transform="translate(77.3 844.2) rotate(-90)" font-size="83.6" text-anchor="middle">Relative Intensity (a. u.)</text>
</svg>
</body>
</html>
